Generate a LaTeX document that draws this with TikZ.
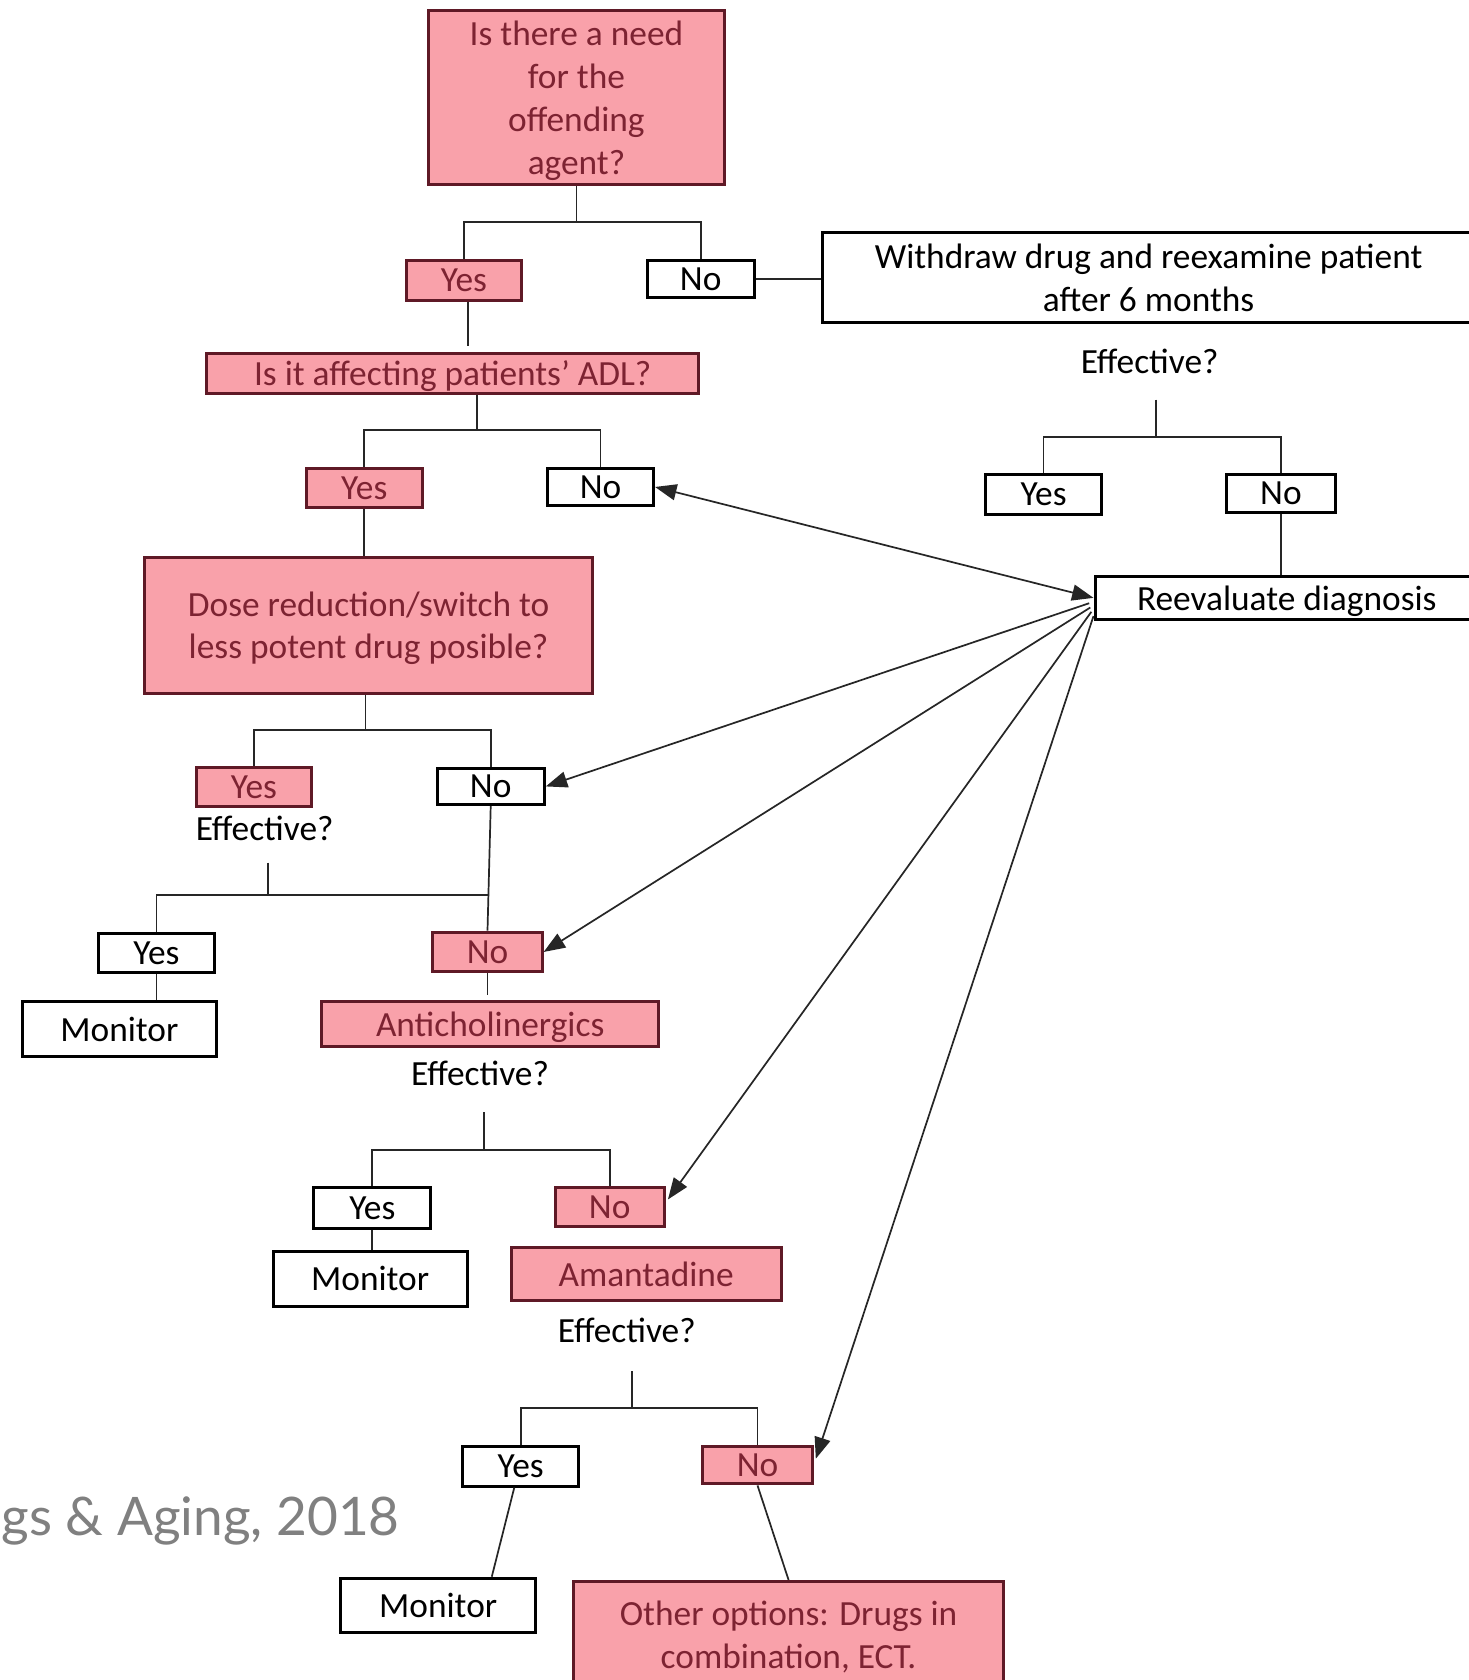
\documentclass[tikz,border=0pt]{standalone}
\usepackage{fontspec}
\setmainfont{Carlito}
\newfontfamily\agingfont{Lato}
\usetikzlibrary{arrows.meta,calc}
\definecolor{pinkfill}{RGB}{249,161,170}
\definecolor{pinkdraw}{RGB}{95,25,38}
\definecolor{pinktext}{RGB}{125,35,50}
\definecolor{agegray}{RGB}{128,128,128}
\newcommand{\mainfnt}{\fontsize{16.5pt}{20pt}\selectfont}
\begin{document}
\begin{tikzpicture}[x=0.5pt,y=-0.5pt,
  pinkbox/.style={draw=pinkdraw,fill=pinkfill,text=pinktext,line width=1.4pt,inner sep=0pt,align=center,font=\mainfnt,text depth=0pt},
  whitebox/.style={draw=black,fill=white,text=black,line width=1.4pt,inner sep=0pt,align=center,font=\mainfnt,text depth=0pt},
  lbl/.style={inner sep=0pt,font=\mainfnt,text=black},
  conn/.style={line width=0.8pt,draw=black!85},
  arr/.style={conn,-{Triangle[length=10pt,width=7.5pt]}},
  darr/.style={conn,{Triangle[length=10pt,width=7.5pt]}-{Triangle[length=10pt,width=7.5pt]}}]
\useasboundingbox (0,0) rectangle (1371,1568);
\clip (0,0) rectangle (1371,1568);
\fill[white] (0,0) rectangle (1371,1568);

% source label
\node[anchor=base west,inner sep=0pt,font=\agingfont\fontsize{24.8pt}{30pt}\selectfont,text=agegray] (src) at (1,1433) {gs \& Aging, 2018};

% main chain
\node[pinkbox,minimum width=138pt,minimum height=81pt] (q1) at (538,91) {Is there a need\\for the\\offending\\agent?};
\node[pinkbox,minimum width=54pt,minimum height=18.5pt] (yes1) at (433,261.5) {Yes};
\node[whitebox,minimum width=50pt,minimum height=17.5pt] (no1) at (654,260.5) {No};
\node[whitebox,minimum width=304pt,minimum height=42pt] (withdraw) at (1072,259) {Withdraw drug and reexamine patient\\after 6 months};
\node[lbl] (eff0) at (1073,337) {Effective?};
\node[whitebox,minimum width=54pt,minimum height=18.5pt] (yes0) at (974,461.5) {Yes};
\node[whitebox,minimum width=50.5pt,minimum height=17.5pt] (no0) at (1195.5,460.5) {No};
\node[whitebox,minimum width=179pt,minimum height=20pt] (reeval) at (1201,558) {Reevaluate diagnosis};

\node[pinkbox,minimum width=229.5pt,minimum height=18.5pt] (adl) at (422.5,348.5) {Is it affecting patients’ ADL?};
\node[pinkbox,minimum width=54pt,minimum height=18.5pt] (yes2) at (340,455.5) {Yes};
\node[whitebox,minimum width=49.5pt,minimum height=17.5pt] (no2) at (560.5,454.5) {No};
\node[pinkbox,minimum width=209pt,minimum height=63.5pt] (dose) at (344,583.5) {Dose reduction/switch to\\less potent drug posible?};
\node[pinkbox,minimum width=54pt,minimum height=18.5pt] (yes3) at (237,734.5) {Yes};
\node[lbl] (eff3) at (247,773) {Effective?};
\node[whitebox,minimum width=50pt,minimum height=17pt] (no3) at (458,734) {No};
\node[whitebox,minimum width=54pt,minimum height=18.5pt] (yes4) at (146,889.5) {Yes};
\node[pinkbox,minimum width=51pt,minimum height=18.5pt] (no4) at (455,888.5) {No};
\node[whitebox,minimum width=90.5pt,minimum height=25.5pt] (mon1) at (111.5,960.5) {Monitor};
\node[pinkbox,minimum width=157.5pt,minimum height=21pt] (anti) at (457.5,956) {Anticholinergics};
\node[lbl] (eff4) at (448,1002) {Effective?};
\node[whitebox,minimum width=54.5pt,minimum height=19.5pt] (yes5) at (347.5,1127.5) {Yes};
\node[pinkbox,minimum width=51pt,minimum height=18.5pt] (no5) at (569,1126.5) {No};
\node[whitebox,minimum width=90.5pt,minimum height=25.5pt] (mon2) at (345.5,1193.5) {Monitor};
\node[pinkbox,minimum width=126pt,minimum height=25pt] (aman) at (603,1189) {Amantadine};
\node[lbl] (eff5) at (585,1242) {Effective?};
\node[whitebox,minimum width=54pt,minimum height=18.5pt] (yes6) at (486,1368.5) {Yes};
\node[pinkbox,minimum width=51pt,minimum height=17.5pt] (no6) at (707,1367.5) {No};
\node[whitebox,minimum width=91pt,minimum height=25.5pt] (mon3) at (409,1498.5) {Monitor};
\node[pinkbox,minimum width=201pt,minimum height=49.5pt] (other) at (736,1525.5) {Other options: Drugs in\\combination, ECT.};

% junction coordinates
\coordinate (j1) at (538,207);
\coordinate (s0) at (1079,373);
\coordinate (j0) at (1079,408);
\coordinate (j2) at (445,401);
\coordinate (j3) at (341,681);
\coordinate (s4) at (250,805);
\coordinate (j4) at (250,835);
\coordinate (s5) at (452,1038);
\coordinate (j5) at (452,1073);
\coordinate (s6) at (590,1280);
\coordinate (j6) at (590,1314);

% tree connectors
\draw[conn] (q1.south) -- (j1);
\draw[conn] (yes1.north) |- (j1) -| (no1.north);
\draw[conn] (no1.east) -- (no1.east -| withdraw.west);
\draw[conn] (s0) -- (j0);
\draw[conn] (yes0.north) |- (j0) -| (no0.north);
\draw[conn] (no0.south) -- (no0.south |- reeval.north);
\draw[conn] ($(yes1.south)+(4,0)$) -- ($(yes1.south |- adl.north)+(4,-6)$);
\draw[conn] (j2 |- adl.south) -- (j2);
\draw[conn] (yes2.north) |- (j2) -| (no2.north);
\draw[conn] (yes2.south) -- (yes2.south |- dose.north);
\draw[conn] (j3 |- dose.south) -- (j3);
\draw[conn] (yes3.north) |- (j3) -| (no3.north);
\draw[conn] (s4) -- (j4);
\draw[conn] (no3.south) -- (no4.north);
\draw[conn] (yes4.north) |- (j4) -- (j4 -| no4.north);
\draw[conn] (yes4.south) -- (yes4.south |- mon1.north);
\draw[conn] (no4.south) -- ($(no4.south |- anti.north)+(0,-5)$);
\draw[conn] (s5) -- (j5);
\draw[conn] (yes5.north) |- (j5) -| (no5.north);
\draw[conn] (yes5.south) -- (yes5.south |- mon2.north);
\draw[conn] (s6) -- (j6);
\draw[conn] (yes6.north) |- (j6) -| (no6.north);
\draw[conn] ($(yes6.south)+(-6,0)$) -- ($(mon3.north)+(50,0)$);
\draw[conn] (no6.south) -- (other.north);

% arrows to/from reevaluation
\draw[darr] (no2.east) -- (reeval.west);
\draw[arr] ($(reeval.west)+(-4,5)$) -- (no3.east);
\draw[arr] ($(reeval.west)+(-3,9)$) -- (no4.east);
\draw[arr] ($(reeval.west)+(-2,13)$) -- ($(no5.east)+(2,-7)$);
\draw[arr] ($(reeval.west)+(0,17)$) -- ($(no6.east)+(2,-6)$);
\end{tikzpicture}
\end{document}
